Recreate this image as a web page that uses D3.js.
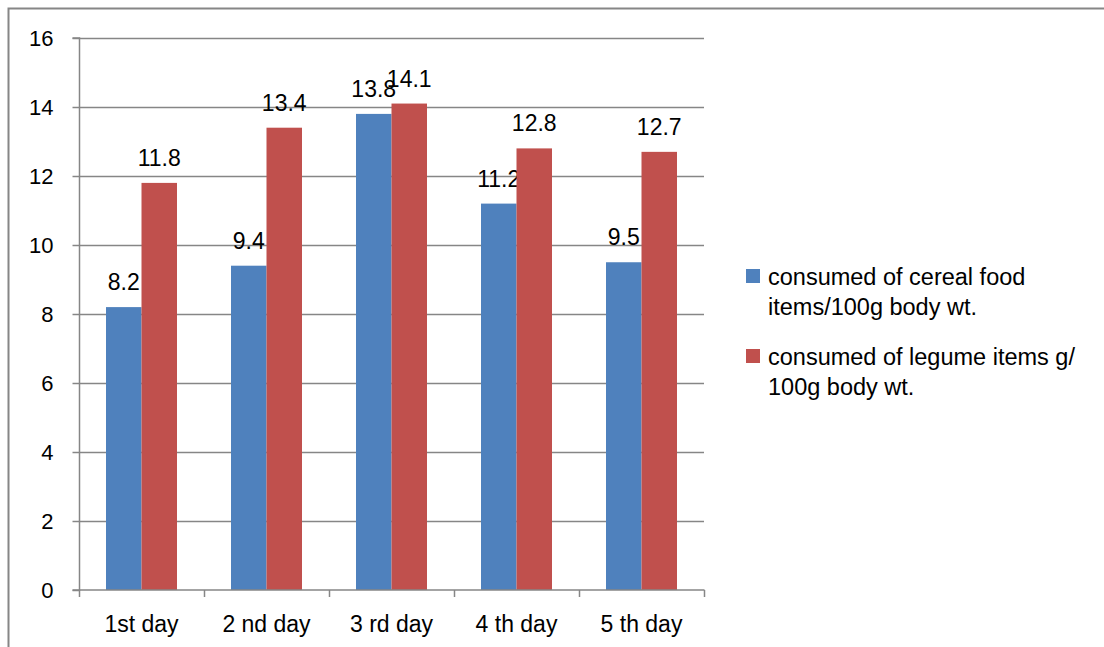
<!DOCTYPE html>
<html><head><meta charset="utf-8">
<script src="https://cdn.jsdelivr.net/npm/d3@7"></script>
<style>body{margin:0;background:#fff}svg{display:block}text{font-family:"Liberation Sans",Arial,sans-serif;fill:#000}</style>
</head><body><svg id="c" width="1104" height="647"></svg>
<script>
const categories = ["1st day","2 nd day","3 rd day","4 th day","5 th day"];
const cereal = [8.2, 9.4, 13.8, 11.2, 9.5];
const legume = [11.8, 13.4, 14.1, 12.8, 12.7];
const seriesNames = ["consumed of cereal food items/100g body wt.","consumed of legume items g/ 100g body wt."];
const legendLines = [["consumed of cereal food","items/100g body wt."],["consumed of legume items g/","100g body wt."]];
const yTicks = [0,2,4,6,8,10,12,14,16];
const colors = ["#4F81BD","#C0504D"];

const svg = d3.select("#c");
const grey = "#868686";
svg.append("rect").attr("x",8.5).attr("y",8.5).attr("width",1200).attr("height",800)
  .attr("fill","none").attr("stroke",grey).attr("stroke-width",2);

const L=79, R=704, T=38, B=590;
const x = d3.scaleBand().domain(categories).range([L,R]).paddingInner(0).paddingOuter(0);
const y = d3.scaleLinear().domain([0,16]).range([B,T]);
const bw = 35.5;

// gridlines
svg.append("g").selectAll("line").data(yTicks.filter(d=>d>0)).join("line")
  .attr("x1",L).attr("x2",R).attr("y1",d=>Math.round(y(d))+0.5).attr("y2",d=>Math.round(y(d))+0.5)
  .attr("stroke",grey).attr("stroke-width",1.5);

// y axis
const ya = svg.append("g").attr("transform",`translate(${L+0.5},0)`)
  .call(d3.axisLeft(y).tickValues(yTicks).tickSize(7).tickPadding(19).tickFormat(d3.format("d")));
ya.select(".domain").attr("stroke",grey).attr("stroke-width",1.5).attr("d",`M-7,${T}H0V${B}H-7`);
ya.selectAll(".tick line").attr("stroke",grey).attr("stroke-width",1.5);
ya.selectAll(".tick text").style("font-size","22px").attr("font-family","Liberation Sans");

// bars
const series = [cereal, legume];
series.forEach((vals,si)=>{
  svg.append("g").selectAll("rect").data(vals).join("rect")
    .attr("x",(d,i)=>x(categories[i])+x.bandwidth()/2-bw+si*bw)
    .attr("y",d=>y(d)).attr("width",bw).attr("height",d=>y(0)-y(d))
    .attr("fill",colors[si]);
  svg.append("g").selectAll("text").data(vals).join("text")
    .attr("x",(d,i)=>x(categories[i])+x.bandwidth()/2-bw/2+si*bw)
    .attr("y",d=>y(d)-17).attr("text-anchor","middle").style("font-size","23px")
    .text(d=>d3.format(".1f")(d));
});

// x axis
const xa = svg.append("g").attr("transform",`translate(0,${B-0.5})`)
  .call(d3.axisBottom(x).tickSize(0).tickPadding(26));
xa.select(".domain").attr("stroke",grey).attr("stroke-width",1.5);
xa.selectAll(".tick text").style("font-size","23px");
svg.append("g").selectAll("line").data(d3.range(categories.length+1)).join("line")
  .attr("x1",i=>Math.round(L+i*x.bandwidth())+0.5).attr("x2",i=>Math.round(L+i*x.bandwidth())+0.5)
  .attr("y1",B).attr("y2",B+7).attr("stroke",grey).attr("stroke-width",1.5);

// legend
const lg = svg.append("g");
legendLines.forEach((lines,si)=>{
  const y0 = 269 + si*80;
  lg.append("rect").attr("x",746).attr("y",y0).attr("width",14).attr("height",14).attr("fill",colors[si]);
  lines.forEach((t,li)=>{
    lg.append("text").attr("x",768).attr("y",y0+16+li*30).style("font-size","23.5px").text(t);
  });
});
</script></body></html>
